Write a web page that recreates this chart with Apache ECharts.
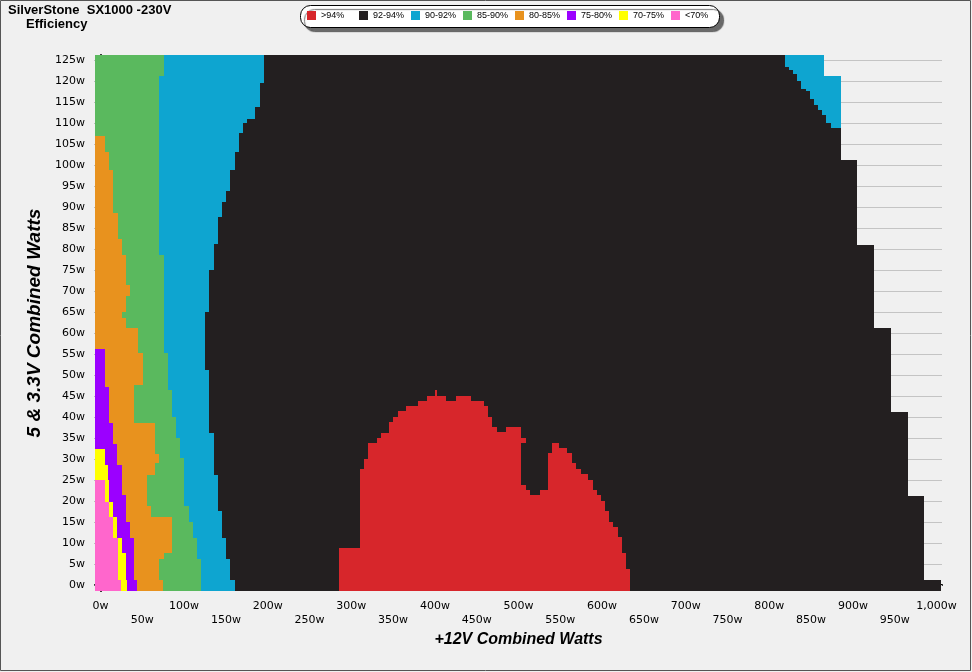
<!DOCTYPE html>
<html><head><meta charset="utf-8">
<script src="https://cdn.jsdelivr.net/npm/echarts@6/dist/echarts.min.js"></script>
<style>html,body{margin:0;padding:0;background:#f0f0f0}#c{width:972px;height:672px}</style>
</head><body><div id="c"></div>
<script>
// ---- axis extents (W) ----
const X_MIN = -6.58, X_MAX = 1006.58, Y_MIN = -1.43, Y_MAX = 126.19;

// ---- legend / colours ----
const legendNames = ['>94%', '92-94%', '90-92%', '85-90%', '80-85%', '75-80%', '70-75%', '<70%'];
const bandColors  = ['#d7262b', '#231f20', '#0ea5d0', '#5ab95e', '#e8921e', '#9b00ff', '#ffff00', '#ff66cc'];

// ---- tick values ----
const xTicks = [0,50,100,150,200,250,300,350,400,450,500,550,600,650,700,750,800,850,900,950,1000];
const yTicks = [0,5,10,15,20,25,30,35,40,45,50,55,60,65,70,75,80,85,90,95,100,105,110,115,120,125];

// ---- band right edges: [5&3.3V watts where step starts, +12V watts where band ends] ----
const pinkEnd   = [[-1.43,24],[1.2,21.3],[11.1,15.3],[16.3,10.6],[19.8,5.4],[25,null]];
const yellowEnd = [[-1.43,32],[1.2,30.5],[7.5,25.3],[11.1,20.1],[16.3,15.3],[19.8,10.6],[25,9.4],[28.6,5.4],[32.3,null]];
const purpleEnd = [[-1.43,43.5],[1.2,40.1],[11.1,35.3],[15.1,30.5],[21.4,25.3],[28.6,20.1],[33.6,15.3],[38.5,10.6],[47.2,5.4],[56.1,null]];
const orangeEnd = [[-1.43,75],[1.2,70.4],[6.1,76],[7.5,85.9],[16.3,60.4],[18.7,55.3],[26.2,65.2],[29,70.4],[31.3,65.2],[38.5,40.1],[47.6,51.2],[55.2,45.3],[61.3,30.5],[63.5,25.7],[65.1,30.5],[68.8,35.3],[71.4,30.5],[78.6,25.7],[82.3,20.5],[88.5,15.3],[98.7,10.6],[103.2,5.4],[106.9,null]];
const greenEnd  = [[-1.43,120.2],[6.1,115.8],[11.1,111],[15.1,105.9],[18.7,100.3],[30.2,95.1],[34.9,90.3],[40.1,85.9],[46.4,81.1],[55.2,76],[78.6,70.4],[121.2,76]];
const blueEnd   = [[-1.43,160.9],[1.2,154.9],[6.1,150.1],[11.1,145.3],[17.5,140.6],[26.2,135.4],[36.1,130.2],[51.2,125],[65.1,130.2],[75,135.4],[81.3,140.6],[87.7,145.3],[91.3,150.1],[93.9,154.9],[98.8,160.9],[103.2,165.8],[107.7,170.5],[110,175.3],[111,185.2],[113.9,190.8],[119.6,195.6]];
const outerEnd  = [[-1.43,1005.4],[1.2,984.7],[21.2,965.5],[41.3,945.6],[61.1,925.2],[81,905],[101.2,885.8],[121.2,865.5]];
// 90-92% island at top right: where it starts (black ends)
const islandStart = [[108.9,873.4],[109.9,867.8],[111.9,862.7],[113.1,857.9],[114.4,853.5],[115.6,848.7],[117.6,844],[118.1,838],[120,833.5],[121.7,828.7],[122.5,824],[123.3,818.8]];
// >94% region as columns: [+12V watts where column starts, top in 5&3.3V watts]
const redColumns = [[285.3,8.9],[310.4,27.6],[315.2,30],[320.4,33.7],[331.2,34.9],[335.5,36.3],[345.1,38.7],[350.2,40.1],[355.5,41.4],[365.4,42.6],[380.2,43.8],[391,45],[400.1,46.4],[402.9,45],[413.3,43.8],[425.2,45],[443.2,43.8],[458.7,42.6],[463.1,40.1],[468.7,37.5],[473.9,36.5],[485.1,37.5],[503,23.8],[509,22.6],[513.8,21.4],[525.7,22.6],[535.7,31.5],[540.5,33.9],[548.9,32.7],[557.6,31.5],[563.6,29],[568.8,27.6],[574.4,26.4],[582.8,25],[588.8,22.6],[593.6,21.4],[598.8,20.1],[603.6,17.6],[608.4,15.1],[613.5,13.9],[618.7,11.5],[623.5,7.7],[628.7,3.8]];
const redRightEdge = 633.5;
// small detached >94% cell beside the notch: [x from, x to, y from, y to]
const redTabs = [[503, 509, 33.9, 34.9]];

// ---- build rectangles [x0, x1, y0, y1] ----
function stepRects(steps) {
  const out = [];
  for (let i = 0; i < steps.length; i++) {
    const y0 = steps[i][0], y1 = i + 1 < steps.length ? steps[i + 1][0] : Y_MAX, x = steps[i][1];
    if (x != null) out.push([X_MIN, x, y0, y1]);
  }
  return out;
}
function valueAt(steps, y) {
  let v = null;
  for (const s of steps) if (s[0] <= y + 1e-9) v = s[1];
  return v;
}
const blackRects = stepRects(outerEnd);
const blueRects = stepRects(blueEnd);
for (let i = 0; i < islandStart.length; i++) {
  const y0 = islandStart[i][0], y1 = i + 1 < islandStart.length ? islandStart[i + 1][0] : Y_MAX;
  const cuts = [y0, ...outerEnd.map(s => s[0]).filter(v => v > y0 && v < y1), y1];
  for (let k = 0; k < cuts.length - 1; k++) blueRects.push([islandStart[i][1], valueAt(outerEnd, cuts[k]), cuts[k], cuts[k + 1]]);
}
const redRects = redColumns.map((c, i) => [c[0], i + 1 < redColumns.length ? redColumns[i + 1][0] : redRightEdge, Y_MIN, c[1]]).concat(redTabs);

const layers = [
  ['92-94%', blackRects, bandColors[1]],
  ['90-92%', blueRects, bandColors[2]],
  ['85-90%', stepRects(greenEnd), bandColors[3]],
  ['80-85%', stepRects(orangeEnd), bandColors[4]],
  ['75-80%', stepRects(purpleEnd), bandColors[5]],
  ['70-75%', stepRects(yellowEnd), bandColors[6]],
  ['<70%', stepRects(pinkEnd), bandColors[7]],
  ['>94%', redRects, bandColors[0]]
];

function rectRender(color) {
  return function (params, api) {
    const a = api.coord([api.value(0), api.value(3)]);
    const b = api.coord([api.value(1), api.value(2)]);
    const x0 = Math.round(a[0]), y0 = Math.round(a[1]), x1 = Math.round(b[0]), y1 = Math.round(b[1]);
    return { type: 'rect', shape: { x: x0, y: y0, width: x1 - x0, height: y1 - y0 }, style: { fill: color } };
  };
}

const series = [{
  type: 'custom', name: 'grid', silent: true, data: yTicks.map(v => [v]),
  encode: { y: 0 },
  renderItem: function (params, api) {
    const a = api.coord([X_MIN, api.value(0)]), b = api.coord([X_MAX, api.value(0)]);
    const y = Math.round(a[1]) + 0.5;
    return { type: 'line', shape: { x1: a[0], y1: y, x2: b[0], y2: y }, style: { stroke: '#c4c4c4', lineWidth: 1 } };
  }
}];
layers.forEach(([name, rects, color]) => {
  series.push({
    type: 'custom', name: name, data: rects, itemStyle: { color: color },
    encode: { x: [0, 1], y: [2, 3] }, renderItem: rectRender(color), silent: true
  });
});

const xMinor = []; for (let v = 0; v <= 1000; v += 10) xMinor.push(v);
const yMinor = []; for (let v = 0; v <= 126; v += 1) yMinor.push(v);
const lblFont = { fontFamily: 'DejaVu Sans', fontSize: 11, color: '#000' };

// one legend per entry so entries sit at a fixed pitch, as in the reference
const legends = legendNames.map((n, i) => ({
  left: 307 + 52 * i, top: 11, padding: 0, icon: 'rect', itemWidth: 9, itemHeight: 9, itemTextGap: 6, z: 10,
  textStyle: { fontFamily: 'Liberation Sans', fontSize: 9, color: '#000' },
  selectedMode: false, data: [n]
}));

const chart = echarts.init(document.getElementById('c'), null, { renderer: 'canvas' });
chart.setOption({
  animation: false,
  backgroundColor: '#f0f0f0',
  title: [
    { text: 'SilverStone  SX1000 -230V', left: 8, top: 4, padding: 0, textStyle: { fontFamily: 'Liberation Sans', fontWeight: 'bold', fontSize: 13, color: '#000' } },
    { text: 'Efficiency', left: 26, top: 18, padding: 0, textStyle: { fontFamily: 'Liberation Sans', fontWeight: 'bold', fontSize: 13, color: '#000' } }
  ],
  legend: legends,
  grid: { left: 95, right: 30, top: 55, bottom: 81, containLabel: false },
  xAxis: [
    {
      type: 'value', min: X_MIN, max: X_MAX, position: 'bottom',
      name: '+12V Combined Watts', nameLocation: 'middle', nameGap: 33,
      nameTextStyle: { fontFamily: 'Liberation Sans', fontWeight: 'bold', fontStyle: 'italic', fontSize: 16, color: '#000' },
      axisLine: { lineStyle: { color: '#000', width: 2 } },
      axisTick: { customValues: xTicks, length: 6, lineStyle: { color: '#8a8a8a' } },
      axisLabel: Object.assign({ customValues: xTicks, margin: 8, lineHeight: 14,
        formatter: v => (v % 100 === 0 ? '' : '\n') + v.toLocaleString('en-US') + 'w' }, lblFont),
      splitLine: { show: false }
    },
    {
      type: 'value', min: X_MIN, max: X_MAX, position: 'bottom', offset: 0,
      axisLine: { show: false }, axisTick: { customValues: xMinor, length: 3, lineStyle: { color: '#000' } },
      axisLabel: { show: false }, splitLine: { show: false }
    }
  ],
  yAxis: [
    {
      type: 'value', min: Y_MIN, max: Y_MAX, position: 'left',
      name: '5 & 3.3V Combined Watts', nameLocation: 'middle', nameGap: 49,
      nameTextStyle: { fontFamily: 'Liberation Sans', fontWeight: 'bold', fontStyle: 'italic', fontSize: 19, color: '#000' },
      axisLine: { lineStyle: { color: '#000', width: 2 } },
      axisTick: { customValues: yTicks, length: 6, lineStyle: { color: '#8a8a8a' } },
      axisLabel: Object.assign({ customValues: yTicks, margin: 10, formatter: v => v + 'w' }, lblFont),
      splitLine: { show: false }
    },
    {
      type: 'value', min: Y_MIN, max: Y_MAX, position: 'left', offset: 0,
      axisLine: { show: false }, axisTick: { customValues: yMinor, length: 3, lineStyle: { color: '#000' } },
      axisLabel: { show: false }, splitLine: { show: false }
    }
  ],
  graphic: [
    { type: 'rect', silent: true, z: 1, shape: { x: 300.5, y: 5.5, width: 419, height: 22, r: 10 },
      style: { fill: '#ffffff', stroke: '#000', lineWidth: 1, shadowColor: 'rgba(60,60,60,0.75)', shadowBlur: 1, shadowOffsetX: 4, shadowOffsetY: 4 } },
    { type: 'rect', silent: true, z: 100, shape: { x: 0.5, y: 0.5, width: 970, height: 670 }, style: { fill: 'none', stroke: '#555', lineWidth: 1 } }
  ],
  series: series
});
</script></body></html>
